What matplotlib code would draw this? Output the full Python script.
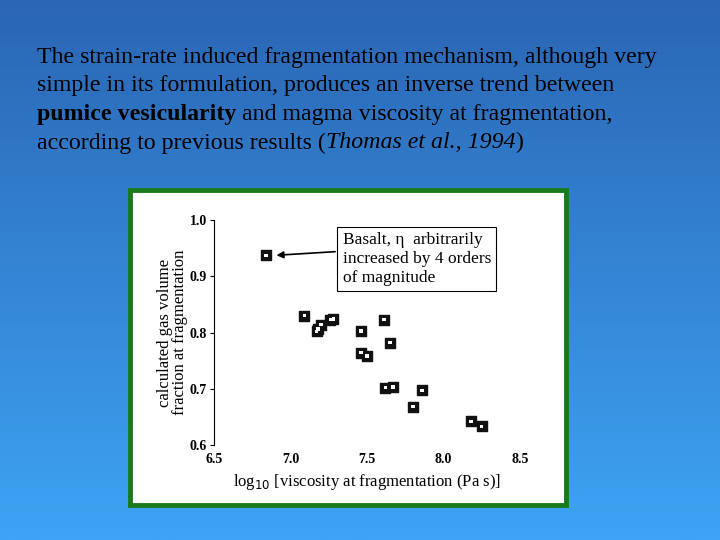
import matplotlib
matplotlib.use("Agg")
import matplotlib.pyplot as plt
import numpy as np
from matplotlib.patches import Rectangle

log_visc = [6.84, 7.09, 7.17, 7.18, 7.20, 7.26, 7.28, 7.46, 7.46, 7.50, 7.61, 7.65, 7.62, 7.67, 7.86, 7.80, 8.18, 8.25]
gas_frac = [0.937, 0.830, 0.802, 0.806, 0.814, 0.823, 0.824, 0.803, 0.764, 0.758, 0.823, 0.782, 0.702, 0.703, 0.697, 0.668, 0.642, 0.633]
xticks = [6.5, 7.0, 7.5, 8.0, 8.5]
yticks = [0.6, 0.7, 0.8, 0.9, 1.0]

fig = plt.figure(figsize=(7.2, 5.4), dpi=100)
bg = fig.add_axes([0, 0, 1, 1])
grad = np.linspace(0, 1, 256)[:, None]
cmap = matplotlib.colors.LinearSegmentedColormap.from_list("g", ["#2a66b4", "#3ea4f4"])
bg.imshow(grad, aspect="auto", cmap=cmap, extent=[0, 1, 0, 1], origin="upper")
bg.set_xlim(0, 1); bg.set_ylim(0, 1); bg.axis("off")

serif = "Liberation Serif"
lines = [
    [("The strain-rate induced fragmentation mechanism, although very", "normal", "normal")],
    [("simple in its formulation, produces an inverse trend between", "normal", "normal")],
    [("pumice vesicularity", "bold", "normal"), (" and magma viscosity at fragmentation,", "normal", "normal")],
    [("according to previous results (", "normal", "normal"), ("Thomas et al., 1994", "normal", "italic"), (")", "normal", "normal")],
]
fig.canvas.draw()
r = fig.canvas.get_renderer()
y0 = 540 - 63
for i, parts in enumerate(lines):
    xpx = 37
    for s, w, st in parts:
        t = fig.text(xpx / 720, (y0 - i * 28.5) / 540, s, fontsize=17.2, family=serif,
                     weight=w, style=st, color="black", va="baseline")
        xpx += t.get_window_extent(r).width

fig.patches.append(Rectangle((130 / 720, 35 / 540), 436 / 720, 315 / 540, transform=fig.transFigure,
                             facecolor="white", edgecolor="#1a7a1a", linewidth=3.5, zorder=1))

ax = fig.add_axes([214 / 720, 95 / 540, 306 / 720, 225 / 540])
ax.set_zorder(3)
ax.patch.set_alpha(0)
ax.scatter(log_visc, gas_frac, marker="s", s=45, facecolor="#111111", edgecolor="#111111", zorder=3)
ax.scatter(log_visc, gas_frac, marker="s", s=6, facecolor="white", edgecolor="none", zorder=4)
ax.set_xlim(6.5, 8.5); ax.set_ylim(0.6, 1.0)
ax.set_xticks(xticks); ax.set_yticks(yticks)
ax.set_xticklabels(["6.5", "7.0", "7.5", "8.0", "8.5"], fontsize=10, weight="bold", family=serif)
ax.set_yticklabels(["0.6", "0.7", "0.8", "0.9", "1.0"], fontsize=10, weight="bold", family=serif)
for s in ["top", "right", "bottom"]:
    ax.spines[s].set_visible(False)
ax.tick_params(length=3, direction="out", pad=2)
ax.tick_params(axis="x", length=0, pad=6)
ax.set_xlabel(r"log$_{10}$ [viscosity at fragmentation (Pa s)]", family=serif, fontsize=12)
ax.set_ylabel("calculated gas volume\nfraction at fragmentation", family=serif, fontsize=12,
              linespacing=0.95, labelpad=1)
ax.annotate("", xy=(6.89, 0.937), xytext=(7.31, 0.944),
            arrowprops=dict(arrowstyle="-|>", color="black", lw=1.2, mutation_scale=10))
ax.text(7.34, 0.979, "Basalt, η  arbitrarily\nincreased by 4 orders\nof magnitude", family=serif, fontsize=12.5,
        va="top", ha="left", linespacing=1.25,
        bbox=dict(boxstyle="square,pad=0.3", facecolor="white", edgecolor="black", lw=0.8))

fig.savefig("out.png", dpi=100)
